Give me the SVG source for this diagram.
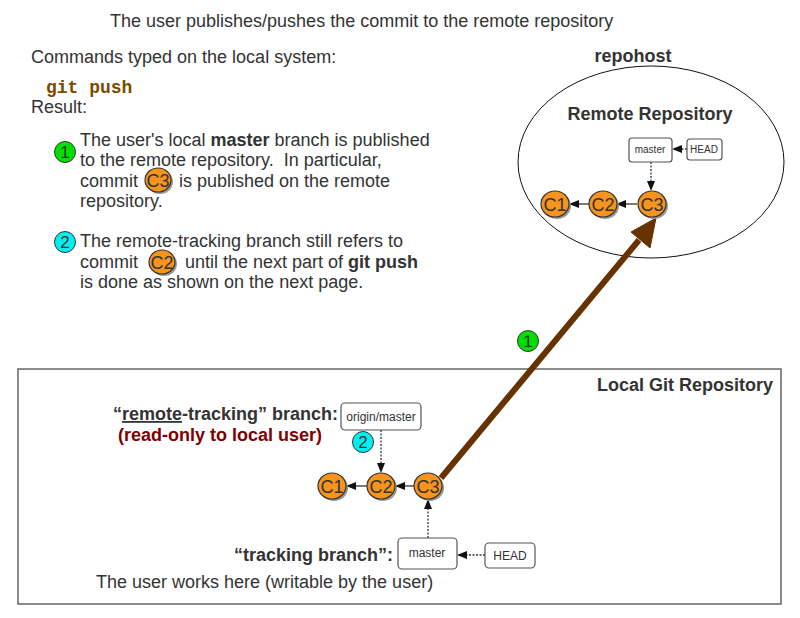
<svg xmlns="http://www.w3.org/2000/svg" width="800" height="618" viewBox="0 0 800 618">
<defs>
<style>
text{font-family:"Liberation Sans",Arial,sans-serif;fill:#333;font-size:18px}
.b{font-weight:bold}
.c{font-size:18px;text-anchor:middle;fill:#333}
.n{font-size:17px;text-anchor:middle;fill:#333}
.s{font-size:12px;text-anchor:middle;fill:#333}
.cm{fill:#f7941d;stroke:#333;stroke-width:1.2}
.sh{fill:#999}
.box{fill:#fff;stroke:#555;stroke-width:1.2}
.dot{stroke:#333;stroke-width:1.3;stroke-dasharray:2,1.5;fill:none}
.ln{stroke:#333;stroke-width:1.3;fill:none}
.n1{fill:#00e000;stroke:#333;stroke-width:1}
.n2{fill:#00f0f0;stroke:#333;stroke-width:1}
</style>
<marker id="ah" markerWidth="10" markerHeight="8" refX="9" refY="4" orient="auto" markerUnits="userSpaceOnUse">
<path d="M0,0 L10,4 L0,8 Z" fill="#111"/>
</marker>
</defs>
<rect width="800" height="618" fill="#fff"/>

<g id="texts">
<text x="110" y="27">The user publishes/pushes the commit to the remote repository</text>
<text x="31" y="63">Commands typed on the local system:</text>
<text x="46" y="93" style="font-family:'Liberation Mono',monospace;font-weight:bold;fill:#7a4a00;font-size:18px">git push</text>
<text x="31" y="113">Result:</text>
<text x="80" y="146">The user's local <tspan class="b">master</tspan> branch is published</text>
<text x="80" y="166">to the remote repository.&#160; In particular,</text>
<text x="80" y="187">commit</text>
<text x="179" y="187">is published on the remote</text>
<text x="80" y="207">repository.</text>
<text x="80" y="247">The remote-tracking branch still refers to</text>
<text x="80" y="268">commit</text>
<text x="185" y="268">until the next part of <tspan class="b">git push</tspan></text>
<text x="80" y="288">is done as shown on the next page.</text>
</g>

<g id="inline-c3">
<ellipse cx="160" cy="182" rx="13" ry="12" class="sh"/>
<ellipse cx="158" cy="180" rx="13" ry="12" class="cm"/>
<text x="158" y="187" class="c">C3</text>
</g>
<g id="inline-c2">
<ellipse cx="164" cy="264" rx="13" ry="12" class="sh"/>
<ellipse cx="162" cy="262" rx="13" ry="12" class="cm"/>
<text x="162" y="269" class="c">C2</text>
</g>
<g id="num1-text">
<circle cx="65" cy="152" r="10.5" class="n1"/>
<text x="65" y="158" class="n">1</text>
</g>
<g id="num2-text">
<circle cx="65" cy="242" r="10.5" class="n2"/>
<text x="65" y="248" class="n">2</text>
</g>

<g id="repohost">
<ellipse cx="651" cy="162" rx="133" ry="96" fill="none" stroke="#111" stroke-width="1"/>
<text x="633" y="62" class="b" text-anchor="middle">repohost</text>
<text x="650" y="120" class="b" text-anchor="middle">Remote Repository</text>
</g>

<g id="local-repo">
<rect x="18" y="369" width="763" height="235" fill="none" stroke="#666" stroke-width="1.5"/>
<text x="773" y="391" class="b" text-anchor="end">Local Git Repository</text>
<text x="113" y="420" class="b">“<tspan text-decoration="underline">remote</tspan>-tracking” branch:</text>
<text x="118" y="441" class="b" style="fill:#800000">(read-only to local user)</text>
<text x="393" y="561" class="b" text-anchor="end">“tracking branch”:</text>
<text x="96" y="588">The user works here (writable by the user)</text>
</g>

<g id="connectors">
<line x1="687" y1="149" x2="673" y2="149" class="dot" marker-end="url(#ah)"/>
<line x1="651" y1="162" x2="651" y2="190" class="dot" marker-end="url(#ah)"/>
<line x1="637" y1="204" x2="617" y2="204" class="ln" marker-end="url(#ah)"/>
<line x1="589" y1="204" x2="570" y2="204" class="ln" marker-end="url(#ah)"/>
<line x1="381" y1="430" x2="381" y2="472" class="dot" marker-end="url(#ah)"/>
<line x1="414" y1="486" x2="396" y2="486" class="ln" marker-end="url(#ah)"/>
<line x1="367" y1="486" x2="347" y2="486" class="ln" marker-end="url(#ah)"/>
<line x1="428" y1="538" x2="428" y2="500" class="dot" marker-end="url(#ah)"/>
<line x1="485" y1="555" x2="458" y2="555" class="dot" marker-end="url(#ah)"/>
<line x1="441" y1="478" x2="639" y2="240" stroke="#663300" stroke-width="6"/>
<path d="M656,218 L631,232 L650,248 Z" fill="#663300" stroke="#663300" stroke-width="1"/>
</g>

<g id="remote-master">
<rect x="629" y="138" width="43" height="24" rx="3" class="box"/>
<text x="650" y="153" class="s" style="font-size:10px">master</text>
</g>
<g id="remote-head">
<rect x="687" y="139" width="35" height="21" rx="3" class="box"/>
<text x="704" y="153" class="s" style="font-size:10px">HEAD</text>
</g>
<g id="remote-c1">
<ellipse cx="557" cy="206" rx="14" ry="13" class="sh"/>
<ellipse cx="555" cy="204" rx="14" ry="13" class="cm"/>
<text x="555" y="211" class="c">C1</text>
</g>
<g id="remote-c2">
<ellipse cx="605" cy="206" rx="14" ry="13" class="sh"/>
<ellipse cx="603" cy="204" rx="14" ry="13" class="cm"/>
<text x="603" y="211" class="c">C2</text>
</g>
<g id="remote-c3">
<ellipse cx="654" cy="206" rx="14" ry="13" class="sh"/>
<ellipse cx="652" cy="204" rx="14" ry="13" class="cm"/>
<text x="652" y="211" class="c">C3</text>
</g>

<g id="origin-master">
<rect x="341" y="403" width="80" height="27" rx="4" class="box"/>
<text x="381" y="421" class="s">origin/master</text>
</g>
<g id="num2-local">
<circle cx="363" cy="442" r="10.5" class="n2"/>
<text x="363" y="448" class="n">2</text>
</g>
<g id="local-c1">
<ellipse cx="334" cy="488" rx="14" ry="13" class="sh"/>
<ellipse cx="332" cy="486" rx="14" ry="13" class="cm"/>
<text x="332" y="493" class="c">C1</text>
</g>
<g id="local-c2">
<ellipse cx="383" cy="488" rx="14" ry="13" class="sh"/>
<ellipse cx="381" cy="486" rx="14" ry="13" class="cm"/>
<text x="381" y="493" class="c">C2</text>
</g>
<g id="local-c3">
<ellipse cx="430" cy="488" rx="14" ry="13" class="sh"/>
<ellipse cx="428" cy="486" rx="14" ry="13" class="cm"/>
<text x="428" y="493" class="c">C3</text>
</g>
<g id="local-master">
<rect x="398" y="538" width="59" height="31" rx="4" class="box"/>
<text x="427" y="557" class="s">master</text>
</g>
<g id="local-head">
<rect x="485" y="543" width="50" height="25" rx="4" class="box"/>
<text x="510" y="560" class="s">HEAD</text>
</g>
<g id="num1-arrow">
<circle cx="528" cy="341" r="10.5" class="n1"/>
<text x="528" y="347" class="n">1</text>
</g>
</svg>
